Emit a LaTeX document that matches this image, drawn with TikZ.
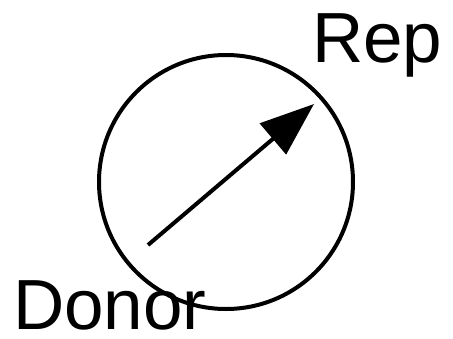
\documentclass[tikz,border=0pt]{standalone}
\usepackage{fontspec}
\setmainfont{Liberation Sans}
\usetikzlibrary{arrows.meta,positioning}
\definecolor{Ink}{HTML}{000000}
\tikzset{
  ring/.style={draw=Ink,circle,line width=4pt,minimum size=254pt,inner sep=0pt},
  label/.style={font=\fontsize{71}{72}\selectfont,text=Ink,inner sep=0pt},
  flow/.style={-{Triangle[length=54pt,width=40pt]},draw=Ink,line width=4pt}
}
\begin{document}
\begin{tikzpicture}[x=1pt,y=-1pt]
        \useasboundingbox (0,0) rectangle (453,338);
        \node[ring] (disk) at (226,182) {};
        \coordinate (donorend) at (148,245);
        \coordinate (repend) at (314,104);
        \node[label,anchor=base west] (rep) at (312,62) {Rep};
        \node[label,anchor=base west] (donor) at (13,329) {Donor};
        \draw[flow] (donorend) -- (repend);
      \end{tikzpicture}
\end{document}
